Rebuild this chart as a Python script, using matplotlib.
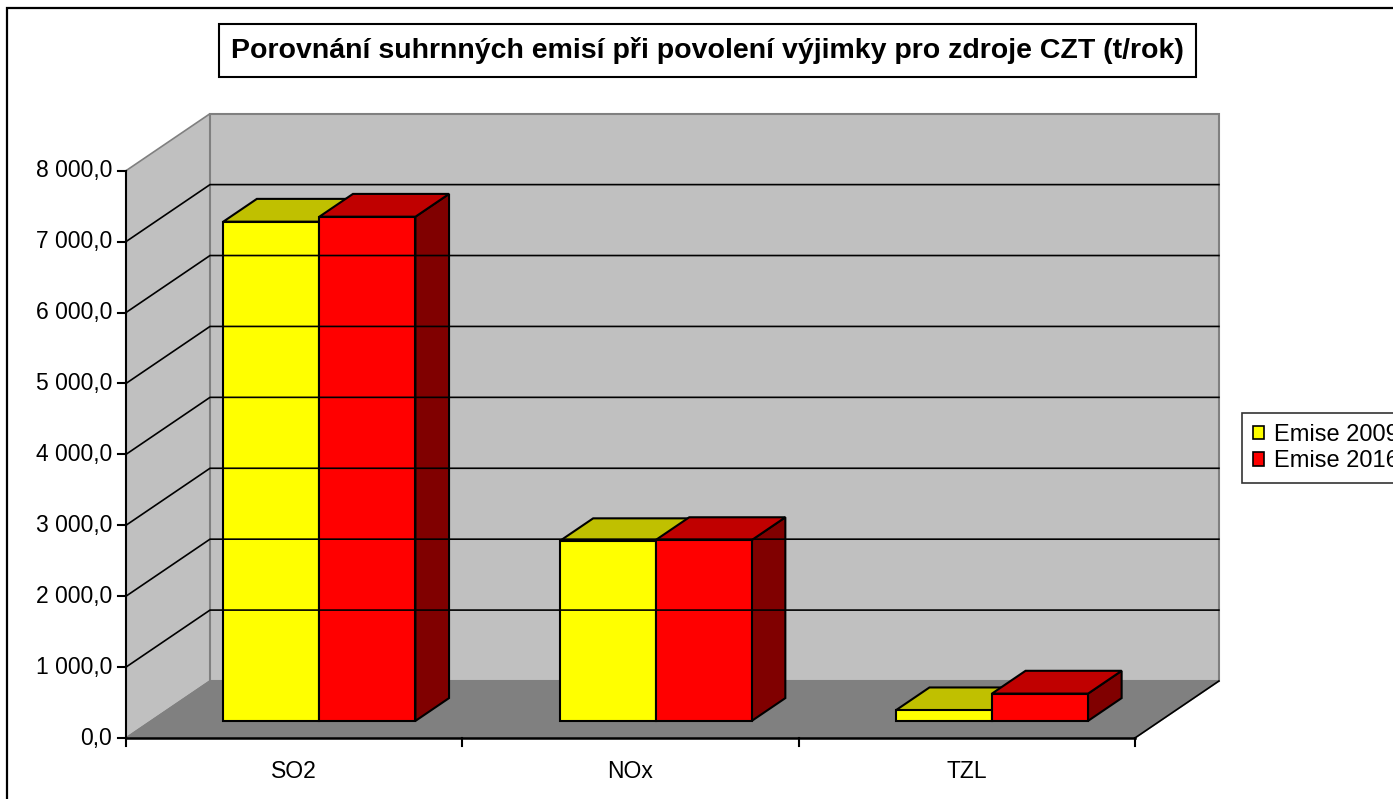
import matplotlib.pyplot as plt
from matplotlib.patches import Polygon, Rectangle, Patch
import numpy as np

plt.rcParams['font.family'] = ['Liberation Sans', 'DejaVu Sans']

categories = ['SO2', 'NOx', 'TZL']
series_names = ['Emise 2009', 'Emise 2016']
emise_2009 = [7040, 2535, 150]
emise_2016 = [7110, 2550, 385]
y_ticks = [0, 1000, 2000, 3000, 4000, 5000, 6000, 7000, 8000]
y_labels = ['0,0', '1 000,0', '2 000,0', '3 000,0', '4 000,0', '5 000,0',
            '6 000,0', '7 000,0', '8 000,0']

W, H = 1393, 799
# pixel placement of the front plane
X0, SX = 126, 336.3      # x pixel of category 0, pixels per category
Y0, SY = 738, 567.3/8000  # y pixel of value 0, pixels per unit
DX = 84/SX               # full depth offset in data units
DY = 57/SY
YMAX = 8000

fig = plt.figure(figsize=(W/100, H/100), dpi=100)
ax = fig.add_axes([0, 0, 1, 1])
ax.set_xlim(-X0/SX, (W-X0)/SX)
ax.set_ylim((Y0-H)/SY, Y0/SY)
ax.axis('off')

def proj(x, v, d):
    return (x + d*DX, v + d*DY)

n = len(categories)
wall_c = '#C0C0C0'
floor_c = '#808080'
edge_gray = '#808080'

# side wall, back wall, floor
side = [proj(0, 0, 0), proj(0, 0, 1), proj(0, YMAX, 1), proj(0, YMAX, 0)]
back = [proj(0, 0, 1), proj(n, 0, 1), proj(n, YMAX, 1), proj(0, YMAX, 1)]
floor = [proj(0, 0, 0), proj(n, 0, 0), proj(n, 0, 1), proj(0, 0, 1)]
ax.add_patch(Polygon(side, closed=True, facecolor=wall_c, edgecolor=edge_gray, lw=1.2))
ax.add_patch(Polygon(back, closed=True, facecolor=wall_c, edgecolor=edge_gray, lw=1.5))
ax.add_patch(Polygon(floor, closed=True, facecolor=floor_c, edgecolor=edge_gray, lw=1.2))

# gridlines
for t in y_ticks[1:-1]:
    p0, p1, p2 = proj(0, t, 0), proj(0, t, 1), proj(n, t, 1)
    ax.plot([p0[0], p1[0], p2[0]], [p0[1], p1[1], p2[1]], color='black', lw=1.2)

# front axes
ax.plot([0, 0], [0, YMAX], color='black', lw=1.5)
ax.plot([0, n], [0, 0], color='black', lw=1.8)
pr = proj(n, 0, 1)
ax.plot([n, pr[0]], [0, pr[1]], color='black', lw=1.2)
tick_len_x = 8/SX
tick_len_y = 8/SY
for t, lab in zip(y_ticks, y_labels):
    ax.plot([-tick_len_x, 0], [t, t], color='black', lw=1.5)
    ax.text(-14/SX, t, lab, ha='right', va='center', fontsize=16.5)
for i in range(n + 1):
    ax.plot([i, i], [0, -tick_len_y], color='black', lw=1.5)
for i, c in enumerate(categories):
    ax.text(i + 0.5, -33/SY, c, ha='center', va='center', fontsize=16.5)

# bars
bw = 1/(2 + 1.5)
d0, d1 = 0.3, 0.7
colors = [('#FFFF00', '#C0C000', '#808000'), ('#FF0000', '#C00000', '#800000')]
for i in range(n):
    for s, vals in enumerate([emise_2009, emise_2016]):
        v = vals[i]
        xl = i + 0.75*bw + s*bw
        xr = xl + bw
        front_c, top_c, side_c = colors[s]
        side_f = [proj(xr, 0, d0), proj(xr, 0, d1), proj(xr, v, d1), proj(xr, v, d0)]
        top_f = [proj(xl, v, d0), proj(xr, v, d0), proj(xr, v, d1), proj(xl, v, d1)]
        front_f = [proj(xl, 0, d0), proj(xr, 0, d0), proj(xr, v, d0), proj(xl, v, d0)]
        for poly, col in [(side_f, side_c), (top_f, top_c), (front_f, front_c)]:
            ax.add_patch(Polygon(poly, closed=True, facecolor=col,
                                 edgecolor='black', lw=1.5, joinstyle='miter'))

# title
fig.patches.append(Rectangle((219/W, 1 - 77/H), (1196-219)/W, 53/H,
                             transform=fig.transFigure, facecolor='white',
                             edgecolor='black', lw=1.5))
fig.text(707/W, 1 - 51/H,
         'Porovnání suhrnných emisí při povolení výjimky pro zdroje CZT (t/rok)',
         ha='center', va='center', fontsize=20.5, fontweight='bold')

# outer border
fig.patches.append(Rectangle((7/W, -0.05), 1.1, 1.05 - 8/H,
                             transform=fig.transFigure, facecolor='none',
                             edgecolor='black', lw=1.6))

# legend (runs off the right edge, as in the original)
handles = [Patch(facecolor=colors[s][0], edgecolor='black', lw=1.2)
           for s in range(2)]
leg = fig.legend(handles, series_names, loc='upper left',
                 bbox_to_anchor=(1242/W, 1 - 413/H), fontsize=17,
                 frameon=True, fancybox=False, edgecolor='black',
                 handlelength=0.5, handleheight=0.5, handletextpad=0.4,
                 labelspacing=0.2, borderpad=0.45, borderaxespad=0)
leg.get_frame().set_linewidth(1.2)

fig.savefig('out.png', dpi=100)
